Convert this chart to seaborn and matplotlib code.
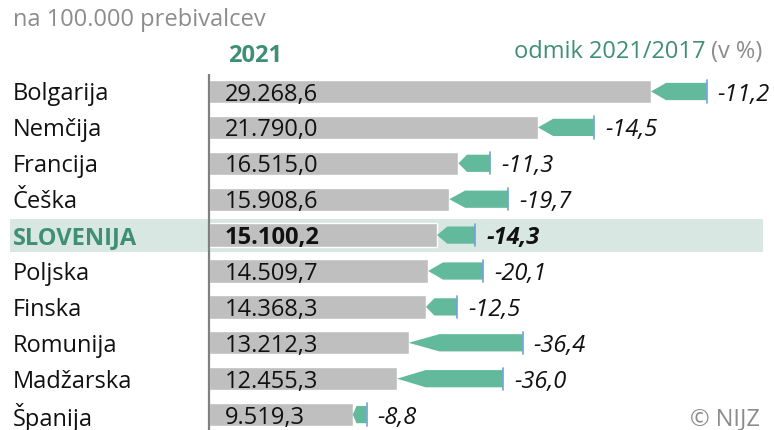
import matplotlib
matplotlib.use("Agg")
import matplotlib.pyplot as plt
from matplotlib.patches import Polygon
import seaborn as sns
import pandas as pd

countries = ["Bolgarija", "Nemčija", "Francija", "Češka", "SLOVENIJA",
             "Poljska", "Finska", "Romunija", "Madžarska", "Španija"]
values_2021 = [29268.6, 21790.0, 16515.0, 15908.6, 15100.2,
               14509.7, 14368.3, 13212.3, 12455.3, 9519.3]
change_pct = [-11.2, -14.5, -11.3, -19.7, -14.3,
              -20.1, -12.5, -36.4, -36.0, -8.8]
value_labels = ["29.268,6", "21.790,0", "16.515,0", "15.908,6", "15.100,2",
                "14.509,7", "14.368,3", "13.212,3", "12.455,3", "9.519,3"]
pct_labels = ["-11,2", "-14,5", "-11,3", "-19,7", "-14,3",
              "-20,1", "-12,5", "-36,4", "-36,0", "-8,8"]
highlight = "SLOVENIJA"

df = pd.DataFrame({"country": countries, "v21": values_2021, "pct": change_pct})
df["v17"] = df["v21"] / (1 + df["pct"] / 100.0)

sns.set_theme(style="white")
plt.rcParams["font.family"] = ["Open Sans", "DejaVu Sans"]

W, H = 774, 431
FS = 17
fig = plt.figure(figsize=(W / 100, H / 100), dpi=100)
ax = fig.add_axes([0, 0, 1, 1])

GRAY = "#bfbfbf"
GREEN = "#63b99c"
DGREEN = "#3f8f73"
TGRAY = "#8c8c8c"
BLUE = "#6fa3d6"

x0px = 209
scale = 29268.6 / 442.0  # units per pixel
row0, step = 92.5, 35.9

hi_idx = countries.index(highlight)
ax.axhspan(hi_idx - 0.5 + 0.04, hi_idx + 0.5 - 0.04,
           xmin=10 / W, xmax=763 / W, color="#d9e7e3", zorder=0, lw=0)

sns.barplot(data=df, y="country", x="v21", orient="h", color=GRAY,
            width=0.65, ax=ax, zorder=2, saturation=1)
ax.set_xlim(-x0px * scale, (W - x0px) * scale)
ax.set_ylim((H - row0) / step, -row0 / step)

a = 0.24
dy = -2
for i, r in df.iterrows():
    v21, v17 = r["v21"], r["v17"]
    L = v17 - v21
    h = 0.27 * L
    poly = Polygon([(v21, i), (v21 + h, i - a), (v17, i - a), (v17, i + a),
                    (v21 + h, i + a)], closed=True, color=GREEN, lw=0, zorder=3)
    ax.add_patch(poly)
    ax.plot([v17, v17], [i - 0.31, i + 0.31], color=BLUE, lw=1.2, zorder=4)
    bold = countries[i] == highlight
    ax.annotate(pct_labels[i], xy=(v17, i), xytext=(11, dy), textcoords="offset pixels",
                ha="left", va="center", fontsize=FS, style="italic",
                fontweight="bold" if bold else "normal", color="#111111")
    ax.annotate(value_labels[i], xy=(0, i), xytext=(16, dy), textcoords="offset pixels",
                ha="left", va="center", fontsize=FS,
                fontweight="bold" if bold else "normal", color="#111111", zorder=5)
    ax.annotate(countries[i], xy=(-x0px * scale, i), xytext=(13, dy), textcoords="offset pixels",
                ha="left", va="center", fontsize=FS,
                fontweight="bold" if bold else "normal",
                color=DGREEN if bold else "#111111")

ax.plot([0, 0], [-0.5, (H - row0) / step], color="#808080", lw=1.6, zorder=6,
        solid_capstyle="butt")

for s in ax.spines.values():
    s.set_visible(False)
ax.set_xticks([])
ax.set_yticks([])
ax.set_xlabel("")
ax.set_ylabel("")

fig.text(13 / W, 1 - 20 / H, "na 100.000 prebivalcev", ha="left", va="center",
         fontsize=FS, color=TGRAY)
fig.text(255 / W, 1 - 56 / H, "2021", ha="center", va="center",
         fontsize=FS, fontweight="bold", color=DGREEN)
t = fig.text(762 / W, 1 - 52 / H, "(v %)", ha="right", va="center",
             fontsize=FS, color=TGRAY)
fig.canvas.draw()
bb = t.get_window_extent()
fig.text((bb.x0 - 5) / W, 1 - 52 / H, "odmik 2021/2017", ha="right", va="center",
         fontsize=FS, color=DGREEN)
fig.text(760 / W, 1 - 419 / H, "© NIJZ", ha="right", va="center",
         fontsize=FS, color=TGRAY)

fig.savefig("out.png", dpi=100)
